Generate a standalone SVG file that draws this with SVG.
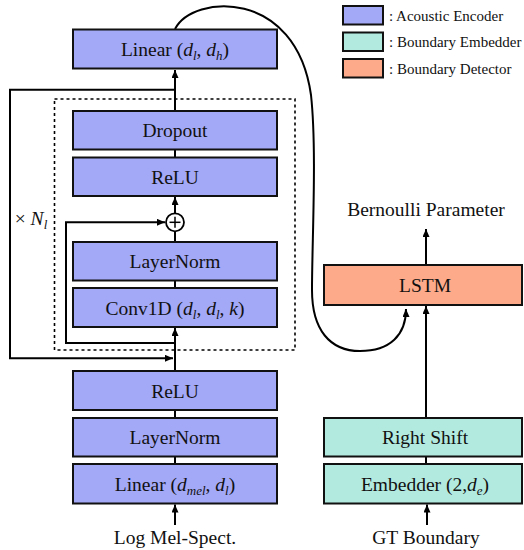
<svg xmlns="http://www.w3.org/2000/svg" width="524" height="550" viewBox="0 0 524 550">
<defs>
<marker id="ah" markerUnits="userSpaceOnUse" markerWidth="9" markerHeight="8" refX="8" refY="3.5" orient="auto">
<path d="M0,0 L8,3.5 L0,7 z" fill="#000"/>
</marker>
<style>
.enc{fill:#a3a8f7;stroke:#111;stroke-width:2}
.emb{fill:#b3eae0;stroke:#111;stroke-width:2}
.det{fill:#fdaa8a;stroke:#111;stroke-width:2}
.t{font-family:"Liberation Serif","Times New Roman",serif;font-size:19.5px;fill:#111;text-anchor:middle}
.lg{font-family:"Liberation Serif","Times New Roman",serif;font-size:15px;fill:#111}
.ln{fill:none;stroke:#000;stroke-width:2}
.ar{fill:none;stroke:#000;stroke-width:2;marker-end:url(#ah)}
.i{font-style:italic}
</style>
</defs>
<rect x="0" y="0" width="524" height="550" fill="#fff"/>

<g id="legend">
<rect class="enc" x="343" y="6" width="40" height="18.5"/>
<text class="lg" x="389" y="20.5">: Acoustic Encoder</text>
<rect class="emb" x="343" y="32.5" width="40" height="18.5"/>
<text class="lg" x="389" y="47">: Boundary Embedder</text>
<rect class="det" x="343" y="59" width="40" height="18.5"/>
<text class="lg" x="389" y="73.5">: Boundary Detector</text>
</g>

<g id="connectors">
<rect x="54.5" y="99" width="240.5" height="251" fill="none" stroke="#000" stroke-width="1.6" stroke-dasharray="3,3"/>
<line class="ar" x1="175" y1="110" x2="175" y2="70"/>
<line class="ln" x1="175" y1="149" x2="175" y2="158"/>
<line class="ar" x1="175" y1="213" x2="175" y2="197"/>
<line class="ln" x1="175" y1="231" x2="175" y2="242"/>
<line class="ln" x1="175" y1="280" x2="175" y2="288"/>
<polyline class="ar" points="175,343 66,343 66,222.3 165,222.3"/>
<line class="ar" x1="175" y1="371" x2="175" y2="328"/>
<polyline class="ar" points="175,89.7 10,89.7 10,358.3 173,358.3"/>
<line class="ln" x1="175" y1="410" x2="175" y2="418"/>
<line class="ln" x1="175" y1="456" x2="175" y2="464"/>
<line class="ar" x1="175" y1="525" x2="175" y2="504.5"/>
<path class="ar" d="M175,29 C193,-6 296,-12 311,95 C317,150 312,240 312,290 C312,330 330,351 360,351 C390,351 406,335 406,309"/>
<line class="ar" x1="426" y1="265" x2="426" y2="229"/>
<line class="ar" x1="426" y1="418" x2="426" y2="306"/>
<line class="ln" x1="426" y1="456" x2="426" y2="464"/>
<line class="ar" x1="427" y1="525" x2="427" y2="504.5"/>
<circle cx="175" cy="222.3" r="9" fill="#fff" stroke="#000" stroke-width="1.8"/>
<line x1="169.5" y1="222.3" x2="180.5" y2="222.3" stroke="#000" stroke-width="1.5"/>
<line x1="175" y1="216.8" x2="175" y2="227.8" stroke="#000" stroke-width="1.5"/>
</g>

<g id="linear-top">
<rect class="enc" x="73" y="29.5" width="204" height="39"/>
<text class="t" x="175" y="56">Linear (<tspan class="i">d</tspan><tspan class="i" font-size="13" dy="4">l</tspan><tspan dy="-4">, </tspan><tspan class="i">d</tspan><tspan class="i" font-size="13" dy="4">h</tspan><tspan dy="-4">)</tspan></text>
</g>
<g id="dropout">
<rect class="enc" x="73" y="111" width="204" height="38.5"/>
<text class="t" x="175" y="137">Dropout</text>
</g>
<g id="relu-inner">
<rect class="enc" x="73" y="157.5" width="204" height="38.5"/>
<text class="t" x="175" y="183.5">ReLU</text>
</g>
<g id="layernorm-inner">
<rect class="enc" x="73" y="242" width="204" height="38.5"/>
<text class="t" x="175" y="268">LayerNorm</text>
</g>
<g id="conv1d">
<rect class="enc" x="73" y="288" width="204" height="39"/>
<text class="t" x="175" y="314.5">Conv1D (<tspan class="i">d</tspan><tspan class="i" font-size="13" dy="4">l</tspan><tspan dy="-4">, </tspan><tspan class="i">d</tspan><tspan class="i" font-size="13" dy="4">l</tspan><tspan dy="-4">, </tspan><tspan class="i">k</tspan>)</text>
</g>
<g id="relu">
<rect class="enc" x="73" y="371" width="204" height="39"/>
<text class="t" x="175" y="397.5">ReLU</text>
</g>
<g id="layernorm">
<rect class="enc" x="73" y="418" width="204" height="38.5"/>
<text class="t" x="175" y="444">LayerNorm</text>
</g>
<g id="linear-in">
<rect class="enc" x="73" y="464" width="204" height="39.5"/>
<text class="t" x="175" y="490.5">Linear (<tspan class="i">d</tspan><tspan class="i" font-size="13" dy="4">mel</tspan><tspan dy="-4">, </tspan><tspan class="i">d</tspan><tspan class="i" font-size="13" dy="4">l</tspan><tspan dy="-4">)</tspan></text>
</g>
<g id="log-mel">
<text class="t" x="175" y="544">Log Mel-Spect.</text>
</g>
<g id="nl-label">
<text class="t" x="31" y="225">× <tspan class="i">N</tspan><tspan class="i" font-size="13" dy="4">l</tspan></text>
</g>

<g id="bernoulli">
<text class="t" x="426" y="216">Bernoulli Parameter</text>
</g>
<g id="lstm">
<rect class="det" x="324" y="265" width="198" height="40"/>
<text class="t" x="425" y="292">LSTM</text>
</g>
<g id="right-shift">
<rect class="emb" x="324" y="418" width="198" height="38.5"/>
<text class="t" x="425" y="444">Right Shift</text>
</g>
<g id="embedder">
<rect class="emb" x="324" y="464" width="198" height="39.5"/>
<text class="t" x="425" y="490.5">Embedder (2,<tspan class="i">d</tspan><tspan class="i" font-size="13" dy="4">e</tspan><tspan dy="-4">)</tspan></text>
</g>
<g id="gt">
<text class="t" x="426" y="544">GT Boundary</text>
</g>
</svg>
